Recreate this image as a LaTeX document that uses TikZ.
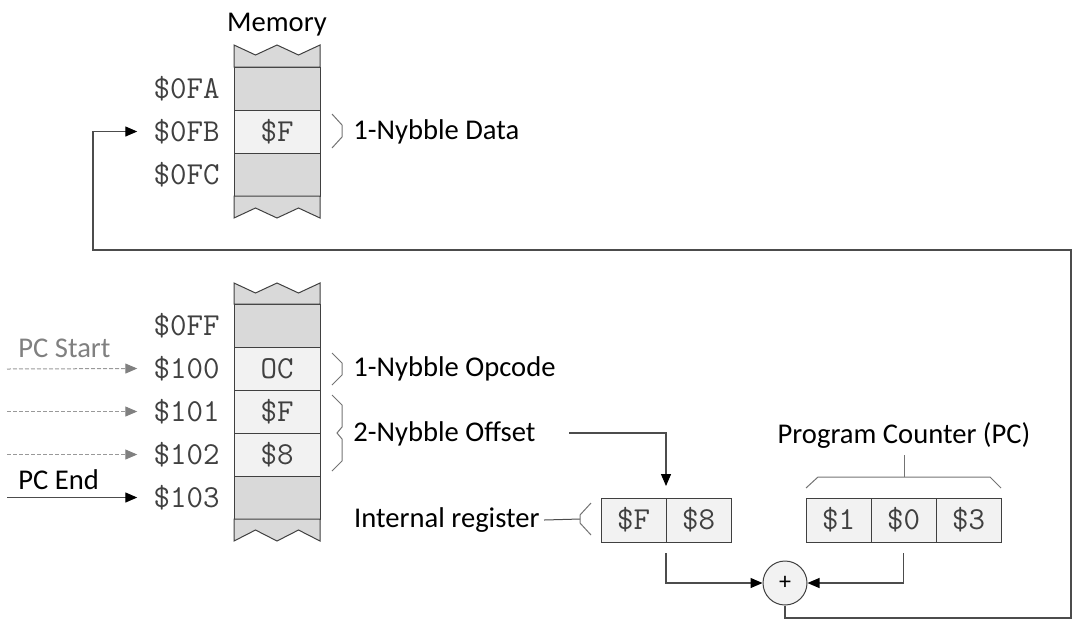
\documentclass[tikz,border=0pt]{standalone}
\usepackage{fontspec}
\setmainfont{Carlito}
\usetikzlibrary{
    arrows.meta,
    positioning
}

\definecolor{memgray}{HTML}{D9D9D9}
\definecolor{memlight}{HTML}{F2F2F2}
\definecolor{memline}{HTML}{404040}

\tikzset{
    cell/.style={draw=memline, line width=0.5pt, outer sep=0pt, inner sep=0pt,
        minimum width=43pt, minimum height=21.5pt,
        font=\ttfamily\fontsize{16}{18}\selectfont, text=black!75},
    gcell/.style={cell, fill=memgray},
    lcell/.style={cell, fill=memlight},
    reg/.style={cell, fill=memlight, minimum width=32.5pt, minimum height=22pt},
    addr/.style={font=\ttfamily\fontsize{16}{18}\selectfont, text=black!75, inner sep=2pt},
    lbl/.style={font=\fontsize{14.3}{16}\selectfont, inner sep=2pt},
    strip/.style={draw=memline, fill=memgray, line width=0.5pt},
    brk/.style={draw=black!55, line width=0.5pt},
    wire/.style={draw=black!70, line width=0.6pt},
    arr/.style={wire, -{Triangle[length=6pt,width=5pt,color=black]}},
    pcarr/.style={draw=black!40, line width=0.5pt, dash pattern=on 2pt off 1pt,
        -{Triangle[length=6pt,width=5pt,color=black!50]}}
}

\begin{document}
\begin{tikzpicture}[x=0.5pt,y=-0.5pt]

\useasboundingbox (0,0) rectangle (1090,638);

% Memory, upper part
\node[lbl] (memtitle) at (277,25) {Memory};
\node[gcell] (m0FA) at (277,88.5) {};
\node[lcell, below=0pt of m0FA] (m0FB) {\$F};
\node[gcell, below=0pt of m0FB] (m0FC) {};
\filldraw[strip] (m0FA.north west) -- ++(0,-22) -- ++(21.5,10) -- ++(21.5,-10)
    -- ++(21.5,10) -- ++(21.5,-10) -- (m0FA.north east) -- cycle;
\filldraw[strip] (m0FC.south west) -- ++(0,22) -- ++(21.5,-10) -- ++(21.5,10)
    -- ++(21.5,-10) -- ++(21.5,10) -- (m0FC.south east) -- cycle;

\node[addr, left=5pt of m0FA] (a0FA) {\$0FA};
\node[addr, left=5pt of m0FB] (a0FB) {\$0FB};
\node[addr, left=5pt of m0FC] (a0FC) {\$0FC};

% Data bracket
\draw[brk] (332,114) -- (342,125) -- (342,137) -- (332,148);
\node[lbl, right=14.5pt of m0FB] (datalbl) {1-Nybble Data};

% Memory, lower part
\node[gcell] (m0FF) at (277,325.5) {};
\node[lcell, below=0pt of m0FF] (m100) {OC};
\node[lcell, below=0pt of m100] (m101) {\$F};
\node[lcell, below=0pt of m101] (m102) {\$8};
\node[gcell, below=0pt of m102] (m103) {};
\filldraw[strip] (m0FF.north west) -- ++(0,-21) -- ++(21.5,10) -- ++(21.5,-10)
    -- ++(21.5,10) -- ++(21.5,-10) -- (m0FF.north east) -- cycle;
\filldraw[strip] (m103.south west) -- ++(0,22) -- ++(21.5,-11) -- ++(21.5,11)
    -- ++(21.5,-11) -- ++(21.5,11) -- (m103.south east) -- cycle;

\node[addr, left=5pt of m0FF] (a0FF) {\$0FF};
\node[addr, left=5pt of m100] (a100) {\$100};
\node[addr, left=5pt of m101] (a101) {\$101};
\node[addr, left=5pt of m102] (a102) {\$102};
\node[addr, left=5pt of m103] (a103) {\$103};

% Opcode and offset brackets
\draw[brk] (332,353) -- (342,363) -- (342,375) -- (332,385);
\node[lbl, right=14.5pt of m100] (oplbl) {1-Nybble Opcode};
\draw[brk] (332,395) -- (342,405) -- (342,427) -- (337,433) -- (342,439)
    -- (342,461) -- (332,471);
\node[lbl, anchor=west] (offlbl) at (349,434) {2-Nybble Offset};

% PC start and end
\node[lbl, anchor=west, text=black!50] (pcstart) at (14,348) {PC Start};
\node[lbl, anchor=west] (pcend) at (14,480) {PC End};
\coordinate (s100) at (7,369);
\coordinate (s101) at (7,411.5);
\coordinate (s102) at (7,454.5);
\coordinate (s103) at (7,497.5);
\draw[pcarr] (s100) -- ([xshift=-6pt]a100.west);
\draw[pcarr] (s101) -- ([xshift=-6pt]a101.west);
\draw[pcarr] (s102) -- ([xshift=-6pt]a102.west);
\draw[arr] (s103) -- ([xshift=-6pt]a103.west);

% Internal register
\node[reg] (r1) at (633.5,520) {\$F};
\node[reg, right=0pt of r1] (r2) {\$8};
\node[lbl, anchor=east] (intlbl) at (544,520) {Internal register};
\coordinate (intnose) at (580,519);
\draw[wire, line width=0.5pt] (intlbl.east) -- (intnose);
\draw[brk] (591,503) -- (580,515) -- (580,523) -- (591,535);

% Program counter
\node[reg] (p1) at (838.5,520) {\$1};
\node[reg, right=0pt of p1] (p2) {\$0};
\node[reg, right=0pt of p2] (p3) {\$3};
\node[lbl] (pclbl) at (904,435) {Program Counter (PC)};
\draw[brk] (806,488) -- (818,477) -- (990,477) -- (1001,488);
\draw[brk] (904,477) -- (904,455);

% Adder
\node[circle, draw=memline, fill=memlight, line width=0.5pt, minimum size=22pt,
    inner sep=0pt, font=\fontsize{12}{14}\selectfont] (sum) at (785,583) {+};

% Connections
\coordinate (offstart) at (569,433);
\draw[arr] (offstart) -| ([yshift=6pt]r1.north east);
\draw[arr] ([yshift=-5.5pt]r1.south east) |- (sum.west);
\draw[arr] ([yshift=-5.5pt]p2.south) |- (sum.east);

% Back to memory
\coordinate (loopR) at (1071,618);
\coordinate (loopL) at (93,250);
\draw[arr] (sum.south) |- (loopR) |- (loopL) |- ([xshift=-6pt]a0FB.west);

\end{tikzpicture}
\end{document}
